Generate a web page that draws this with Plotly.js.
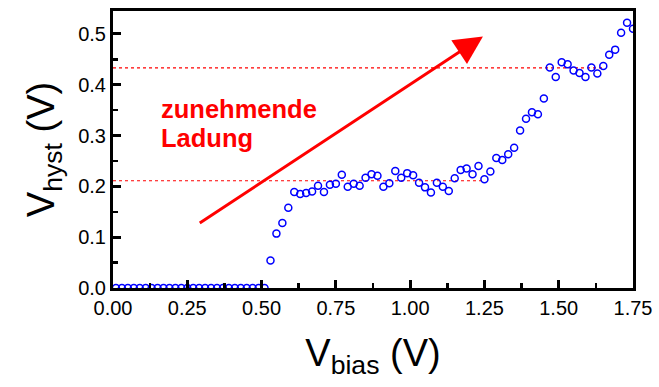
<!DOCTYPE html>
<html>
<head>
<meta charset="utf-8">
<script src="https://cdn.plot.ly/plotly-3.0.1.min.js"></script>
<style>
  html, body { margin: 0; padding: 0; background: #fff; }
  #chart { width: 659px; height: 387px; }
</style>
</head>
<body>
<div id="chart"></div>
<script>
// Data
const vBias = [
  0.01, 0.03, 0.05, 0.07, 0.09, 0.11, 0.13, 0.15, 0.17, 0.19,
  0.21, 0.23, 0.25, 0.27, 0.29, 0.31, 0.33, 0.35, 0.37, 0.39,
  0.41, 0.43, 0.45, 0.47, 0.49, 0.51,
  0.53, 0.55, 0.57, 0.59, 0.61, 0.63, 0.65, 0.67, 0.69, 0.71,
  0.73, 0.75, 0.77, 0.79, 0.81, 0.83, 0.85, 0.87, 0.89, 0.91,
  0.93, 0.95, 0.97, 0.99, 1.01, 1.03, 1.05, 1.07, 1.09, 1.11,
  1.13, 1.15, 1.17, 1.19, 1.21, 1.23, 1.25, 1.27, 1.29, 1.31,
  1.33, 1.35, 1.37, 1.39, 1.41, 1.43, 1.45, 1.47, 1.49, 1.51,
  1.53, 1.55, 1.57, 1.59, 1.61, 1.63, 1.65, 1.67, 1.69, 1.71,
  1.73, 1.75
];
const vHyst = [
  0, 0, 0, 0, 0, 0, 0, 0, 0, 0,
  0, 0, 0, 0, 0, 0, 0, 0, 0, 0,
  0, 0, 0, 0, 0, 0,
  0.054, 0.107, 0.128, 0.158, 0.189, 0.185, 0.187, 0.190, 0.201, 0.189,
  0.203, 0.205, 0.223, 0.199, 0.205, 0.201, 0.217, 0.224, 0.221, 0.199,
  0.206, 0.230, 0.217, 0.226, 0.222, 0.207, 0.198, 0.188, 0.207, 0.199,
  0.191, 0.216, 0.232, 0.235, 0.224, 0.240, 0.214, 0.229, 0.256, 0.252,
  0.263, 0.276, 0.310, 0.333, 0.346, 0.342, 0.373, 0.434, 0.415, 0.444,
  0.440, 0.428, 0.423, 0.415, 0.434, 0.422, 0.437, 0.459, 0.469, 0.502,
  0.522, 0.510
];
const xTickVals = [0, 0.25, 0.5, 0.75, 1.0, 1.25, 1.5, 1.75];
const xTickText = ["0.00", "0.25", "0.50", "0.75", "1.00", "1.25", "1.50", "1.75"];
const yTickVals = [0, 0.1, 0.2, 0.3, 0.4, 0.5];
const yTickText = ["0.0", "0.1", "0.2", "0.3", "0.4", "0.5"];
const refLevels = [0.211, 0.433];
const refEnds = [1.25, 1.65];
const arrowFrom = [0.287, 0.126];
const arrowTo = [1.245, 0.495];
const labelLines = ["zunehmende", "Ladung"];

const FONT = "Liberation Sans, Arial, sans-serif";
const RED = "#ff0000";

const trace = {
  type: "scatter",
  mode: "markers",
  x: vBias,
  y: vHyst,
  marker: {
    symbol: "circle-open",
    size: 7,
    color: "#0000ff",
    line: { color: "#0000ff", width: 1.5 }
  },
  hoverinfo: "skip",
  showlegend: false
};

const shapes = refLevels.map((lv, i) => ({
  type: "line",
  xref: "x", yref: "y",
  x0: 0, x1: refEnds[i],
  y0: lv, y1: lv,
  line: { color: RED, width: 1.2, dash: "dot" },
  layer: "below"
}));

const annotations = [
  {
    xref: "x", yref: "y", axref: "x", ayref: "y",
    x: arrowTo[0], y: arrowTo[1],
    ax: arrowFrom[0], ay: arrowFrom[1],
    text: "",
    showarrow: true,
    arrowhead: 2,
    arrowsize: 1.9,
    arrowwidth: 3,
    arrowcolor: RED
  },
  {
    xref: "x", yref: "y",
    x: 0.156, y: 0.3525,
    xanchor: "left", yanchor: "middle",
    text: "<b>" + labelLines[0] + "</b>",
    showarrow: false,
    font: { family: FONT, size: 25.5, color: RED }
  },
  {
    xref: "x", yref: "y",
    x: 0.156, y: 0.2957,
    xanchor: "left", yanchor: "middle",
    text: "<b>" + labelLines[1] + "</b>",
    showarrow: false,
    font: { family: FONT, size: 25.5, color: RED }
  }
];

const layout = {
  width: 659,
  height: 387,
  margin: { l: 113, r: 26, t: 11, b: 99, pad: 0 },
  paper_bgcolor: "#ffffff",
  plot_bgcolor: "#ffffff",
  font: { family: FONT, color: "#000000" },
  showlegend: false,
  xaxis: {
    range: [0, 1.75],
    tickvals: xTickVals,
    ticktext: xTickText,
    ticks: "inside",
    ticklen: 8,
    tickwidth: 3,
    tickcolor: "#000",
    minor: { ticks: "inside", ticklen: 5, tickwidth: 2.5, tickcolor: "#000", dtick: 0.125, tick0: 0 },
    showline: true, linewidth: 3, linecolor: "#000", mirror: true,
    showgrid: false, zeroline: false,
    tickfont: { family: FONT, size: 20, color: "#000" },
    title: { text: "V<sub>bias</sub> (V)", font: { family: FONT, size: 38, color: "#000" }, standoff: 22 }
  },
  yaxis: {
    range: [0, 0.545],
    tickvals: yTickVals,
    ticktext: yTickText,
    ticks: "inside",
    ticklen: 8,
    tickwidth: 3,
    tickcolor: "#000",
    minor: { ticks: "inside", ticklen: 5, tickwidth: 2.5, tickcolor: "#000", dtick: 0.05, tick0: 0 },
    showline: true, linewidth: 3, linecolor: "#000", mirror: true,
    showgrid: false, zeroline: false,
    tickfont: { family: FONT, size: 20, color: "#000" },
    title: { text: "V<sub>hyst</sub> (V)", font: { family: FONT, size: 38, color: "#000" }, standoff: 12 }
  },
  shapes: shapes,
  annotations: annotations
};

Plotly.newPlot("chart", [trace], layout, { staticPlot: true, displayModeBar: false });
</script>
</body>
</html>
